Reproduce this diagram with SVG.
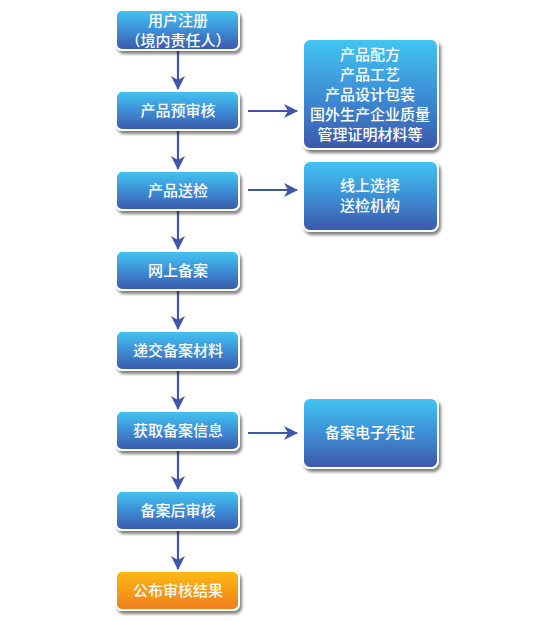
<svg xmlns="http://www.w3.org/2000/svg" width="554" height="621" viewBox="0 0 554 621">
<defs>
<linearGradient id="gb" x1="0" y1="0" x2="0" y2="1">
<stop offset="0" stop-color="#42c6f2"/>
<stop offset="0.5" stop-color="#3d8fd6"/>
<stop offset="1" stop-color="#3c57ab"/>
</linearGradient>
<linearGradient id="go" x1="0" y1="0" x2="0" y2="1">
<stop offset="0" stop-color="#fdba10"/>
<stop offset="1" stop-color="#ef7d1f"/>
</linearGradient>
<filter id="sh" x="-20%" y="-20%" width="140%" height="150%">
<feGaussianBlur in="SourceAlpha" stdDeviation="1.6"/>
<feOffset dx="1.5" dy="2.5" result="b"/>
<feComponentTransfer><feFuncA type="linear" slope="0.5"/></feComponentTransfer>
<feMerge><feMergeNode/><feMergeNode in="SourceGraphic"/></feMerge>
</filter>
<marker id="ah" viewBox="0 0 14 14" refX="13" refY="7" markerWidth="14" markerHeight="14" markerUnits="userSpaceOnUse" orient="auto">
<path d="M0,0 L14,7 L0,14 L4,7 Z" fill="#3f57a8"/>
</marker>
</defs>
<style>
.b{fill:url(#gb);stroke:#fff;stroke-width:2;filter:url(#sh)}
.o{fill:url(#go);stroke:#fff;stroke-width:2;filter:url(#sh)}
text{font-family:"Noto Sans CJK SC","Noto Sans",sans-serif;font-size:15px;fill:#fff;text-anchor:middle;font-weight:500}
.c line{stroke:#3f57a8;stroke-width:2.2;marker-end:url(#ah)}
</style>
<rect width="554" height="621" fill="#fff"/>
<g class="c" id="connectors">
<line x1="178" y1="51" x2="178" y2="89"/>
<line x1="178" y1="131" x2="178" y2="169"/>
<line x1="178" y1="211" x2="178" y2="249"/>
<line x1="178" y1="291" x2="178" y2="329"/>
<line x1="178" y1="371" x2="178" y2="409"/>
<line x1="178" y1="451" x2="178" y2="489"/>
<line x1="178" y1="531" x2="178" y2="569"/>
<line x1="248" y1="111" x2="297" y2="111"/>
<line x1="248" y1="190" x2="297" y2="190"/>
<line x1="248" y1="433" x2="297" y2="433"/>
</g>
<g id="n1"><rect class="b" x="116" y="10" width="123" height="40" rx="6"/><text x="178" y="26">用户注册</text><text x="178" y="45.5">（境内责任人）</text></g>
<g id="n2"><rect class="b" x="116" y="91" width="123" height="39" rx="6"/><text x="178" y="116">产品预审核</text></g>
<g id="n3"><rect class="b" x="116" y="171" width="123" height="39" rx="6"/><text x="178" y="196">产品送检</text></g>
<g id="n4"><rect class="b" x="116" y="251" width="123" height="39" rx="6"/><text x="178" y="276">网上备案</text></g>
<g id="n5"><rect class="b" x="116" y="331" width="123" height="39" rx="6"/><text x="178" y="356">递交备案材料</text></g>
<g id="n6"><rect class="b" x="116" y="411" width="123" height="39" rx="6"/><text x="178" y="436">获取备案信息</text></g>
<g id="n7"><rect class="b" x="116" y="491" width="123" height="39" rx="6"/><text x="178" y="516">备案后审核</text></g>
<g id="n8"><rect class="o" x="116" y="571" width="123" height="39" rx="6"/><text x="178" y="596">公布审核结果</text></g>
<g id="r1"><rect class="b" x="303" y="39" width="135" height="110" rx="7"/><text x="370" y="60">产品配方</text><text x="370" y="80">产品工艺</text><text x="370" y="100">产品设计包装</text><text x="370" y="120">国外生产企业质量</text><text x="370" y="140">管理证明材料等</text></g>
<g id="r2"><rect class="b" x="303" y="161" width="135" height="70" rx="7"/><text x="370" y="191">线上选择</text><text x="370" y="211">送检机构</text></g>
<g id="r3"><rect class="b" x="303" y="398" width="135" height="70" rx="7"/><text x="370" y="438">备案电子凭证</text></g>
</svg>
